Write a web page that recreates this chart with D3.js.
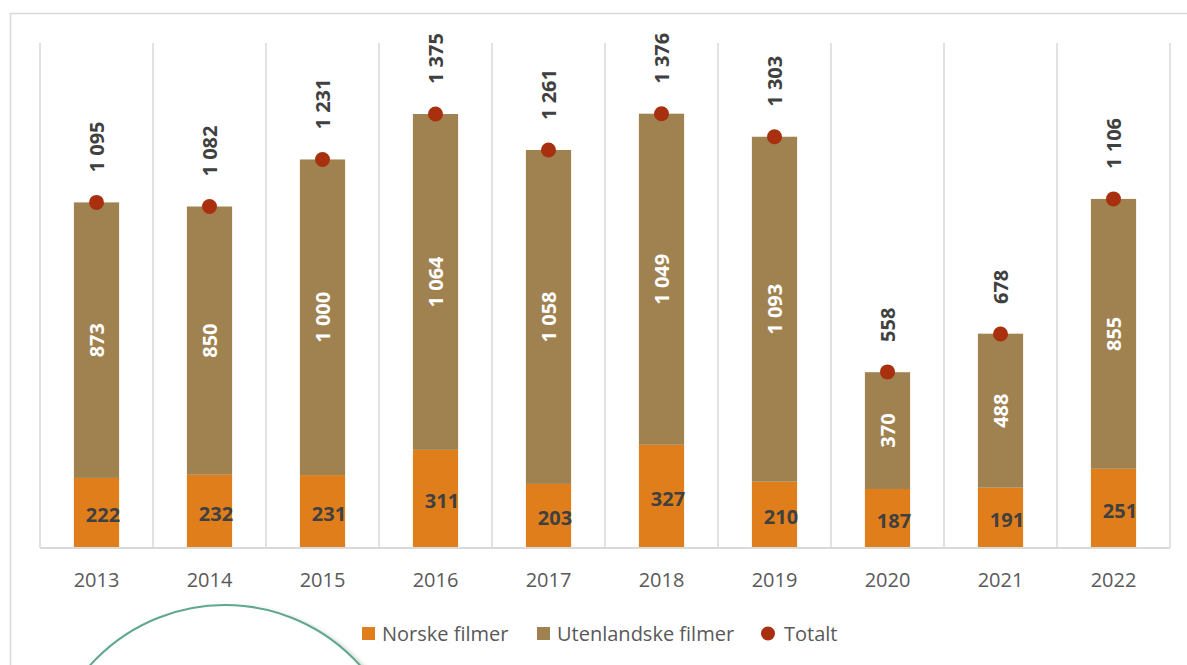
<!DOCTYPE html>
<html>
<head>
<meta charset="utf-8">
<script src="https://cdn.jsdelivr.net/npm/d3@7"></script>
<style>
  html, body { margin: 0; padding: 0; background: #fff; }
  svg { display: block; font-family: "Open Sans", "Liberation Sans", sans-serif; }
</style>
</head>
<body>
<svg id="chart" width="1187" height="665"></svg>
<script>
const years = ["2013","2014","2015","2016","2017","2018","2019","2020","2021","2022"];
const norske = [222, 232, 231, 311, 203, 327, 210, 187, 191, 251];
const utenlandske = [873, 850, 1000, 1064, 1058, 1049, 1093, 370, 488, 855];
const totalt = [1095, 1082, 1231, 1375, 1261, 1376, 1303, 558, 678, 1106];
const legendLabels = ["Norske filmer", "Utenlandske filmer", "Totalt"];

const colors = { norske: "#DF7E1B", uten: "#9F8250", total: "#A8300F", grid: "#D9D9D9", text: "#404040", axis: "#595959" };
const fmt = v => { const s = String(v); return s.length > 3 ? s.slice(0, s.length - 3) + " " + s.slice(-3) : s; };

const svg = d3.select("#chart");

// outer frame
svg.append("rect").attr("x", 10.5).attr("y", 13.5).attr("width", 1200).attr("height", 700)
  .attr("fill", "#fff").attr("stroke", colors.grid).attr("stroke-width", 1.5);

const x = d3.scaleBand().domain(years).range([40, 1170]).paddingInner(0.6).paddingOuter(0.3);
const y = d3.scaleLinear().domain([0, 1600]).range([548, 43]);
const step = x.step();

// vertical gridlines at category boundaries
const bounds = years.map(d => x(d) - step * 0.3).concat([x(years[years.length - 1]) + x.bandwidth() + step * 0.3]);
svg.append("g").selectAll("line").data(bounds).join("line")
  .attr("x1", d => d).attr("x2", d => d).attr("y1", y(1600)).attr("y2", y(0))
  .attr("stroke", colors.grid).attr("stroke-width", 1.5);

// bars
const g = svg.append("g");
years.forEach((yr, i) => {
  g.append("rect").attr("x", x(yr)).attr("width", x.bandwidth())
    .attr("y", y(norske[i])).attr("height", y(0) - y(norske[i])).attr("fill", colors.norske);
  g.append("rect").attr("x", x(yr)).attr("width", x.bandwidth())
    .attr("y", y(norske[i] + utenlandske[i])).attr("height", y(norske[i]) - y(norske[i] + utenlandske[i]))
    .attr("fill", colors.uten);
});

// baseline axis
svg.append("line").attr("x1", bounds[0]).attr("x2", bounds[bounds.length - 1])
  .attr("y1", y(0)).attr("y2", y(0)).attr("stroke", colors.grid).attr("stroke-width", 2);

// x axis labels
const xAxis = svg.append("g").attr("transform", `translate(0,${y(0)})`)
  .call(d3.axisBottom(x).tickSize(0).tickPadding(25));
xAxis.select(".domain").remove();
xAxis.selectAll("text").attr("font-size", 20).attr("fill", colors.axis)
  .attr("font-family", "'Open Sans', sans-serif");

// Norske labels
g.selectAll(".nl").data(years).join("text").attr("class", "nl")
  .attr("x", d => x(d) + x.bandwidth() + 1)
  .attr("y", (d, i) => (y(0) + y(norske[i])) / 2 + 2)
  .attr("text-anchor", "end").attr("dominant-baseline", "central")
  .attr("font-size", 20).attr("font-weight", "bold").attr("fill", colors.text)
  .text((d, i) => fmt(norske[i]));

// Utenlandske labels (rotated, white)
g.selectAll(".ul").data(years).join("text").attr("class", "ul")
  .attr("transform", (d, i) => `translate(${x(d) + x.bandwidth() / 2},${(y(norske[i]) + y(norske[i] + utenlandske[i])) / 2}) rotate(-90)`)
  .attr("text-anchor", "middle").attr("dominant-baseline", "central")
  .attr("font-size", 20).attr("font-weight", "bold").attr("fill", "#fff")
  .text((d, i) => fmt(utenlandske[i]));

// Totalt dots
g.selectAll(".dot").data(years).join("circle").attr("class", "dot")
  .attr("cx", d => x(d) + x.bandwidth() / 2).attr("cy", (d, i) => y(totalt[i]))
  .attr("r", 7.5).attr("fill", colors.total);

// Totalt labels
g.selectAll(".tl").data(years).join("text").attr("class", "tl")
  .attr("transform", (d, i) => `translate(${x(d) + x.bandwidth() / 2},${y(totalt[i]) - 30}) rotate(-90)`)
  .attr("text-anchor", "start").attr("dominant-baseline", "central")
  .attr("font-size", 20).attr("font-weight", "bold").attr("fill", colors.text)
  .text((d, i) => fmt(totalt[i]));

// decorative circle with shadow
const defs = svg.append("defs");
const f = defs.append("filter").attr("id", "sh").attr("x", "-20%").attr("y", "-20%").attr("width", "140%").attr("height", "140%");
f.append("feDropShadow").attr("dx", 3).attr("dy", 3).attr("stdDeviation", 2.5).attr("flood-color", "#000").attr("flood-opacity", 0.3);
svg.append("circle").attr("cx", 225).attr("cy", 786).attr("r", 181)
  .attr("fill", "#fff").attr("stroke", "#5FA88C").attr("stroke-width", 2).attr("filter", "url(#sh)");

// legend
const legend = svg.append("g").attr("font-size", 20).attr("fill", colors.axis);
const legX = [362, 537, 761];
const legTextX = [382, 557, 784];
legend.append("rect").attr("x", legX[0]).attr("y", 627).attr("width", 13).attr("height", 13).attr("fill", colors.norske);
legend.append("rect").attr("x", legX[1]).attr("y", 627).attr("width", 13).attr("height", 13).attr("fill", colors.uten);
legend.append("circle").attr("cx", legX[2] + 7).attr("cy", 633.5).attr("r", 7).attr("fill", colors.total);
legendLabels.forEach((t, i) => {
  legend.append("text").attr("x", legTextX[i]).attr("y", 641).attr("fill", colors.axis).text(t);
});
</script>
</body>
</html>
